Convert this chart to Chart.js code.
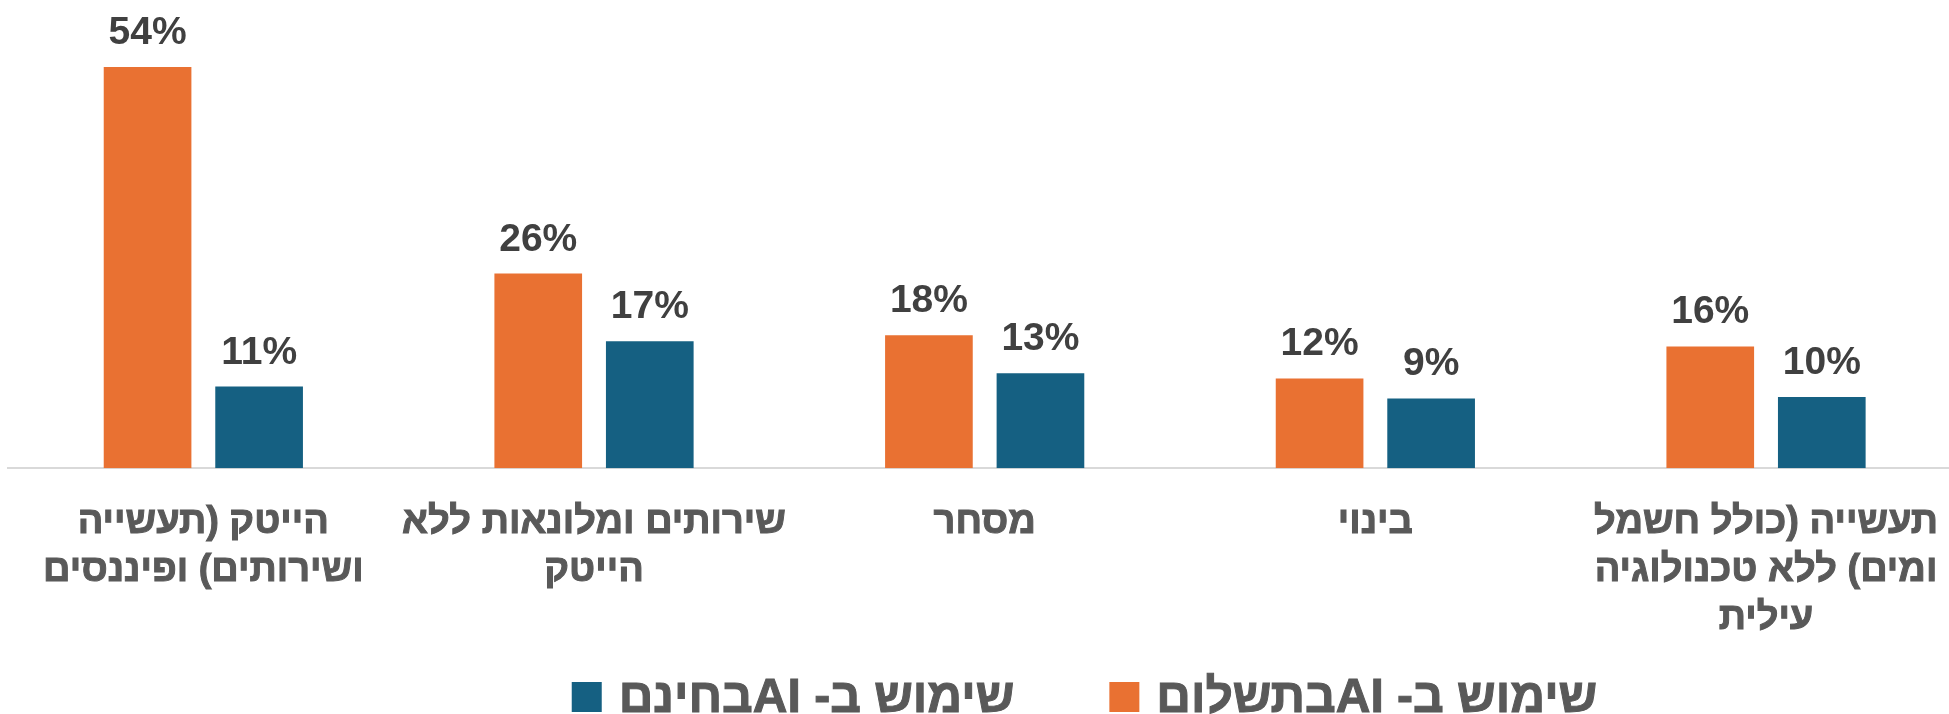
<!DOCTYPE html>
<html>
<head>
<meta charset="utf-8">
<script src="https://cdn.jsdelivr.net/npm/chart.js@4.4.1/dist/chart.umd.min.js"></script>
<style>
  html, body { margin: 0; padding: 0; background: #ffffff; overflow: hidden; }
</style>
</head>
<body>
<canvas id="aiChart" width="1968" height="714" dir="rtl"></canvas>
<script>
var categories = [
    ['הייטק (תעשייה', 'ושירותים) ופיננסים'],
    ['שירותים ומלונאות ללא', 'הייטק'],
    'מסחר',
    'בינוי',
    ['תעשייה (כולל חשמל', 'ומים) ללא טכנולוגיה', 'עילית']
];
var seriesNames = ['שימוש ב- AIבתשלום', 'שימוש ב- AIבחינם'];
var paidValues = [54, 26.2, 17.9, 12.1, 16.4];
var freeValues = [11, 17.1, 12.8, 9.4, 9.6];
var seriesColors = ['#E97132', '#156082'];

var fontFamily = '"Liberation Sans", Arial, sans-serif';

// percent labels above every bar
var valueLabels = {
    id: 'valueLabels',
    afterDatasetsDraw: function (chart) {
        var ctx = chart.ctx;
        ctx.save();
        ctx.font = 'bold 39px ' + fontFamily;
        ctx.fillStyle = '#404040';
        ctx.textAlign = 'center';
        ctx.textBaseline = 'alphabetic';
        chart.data.datasets.forEach(function (ds, i) {
            chart.getDatasetMeta(i).data.forEach(function (bar, j) {
                ctx.fillText(Math.round(ds.data[j]) + '%', bar.x, bar.y - 23);
            });
        });
        ctx.restore();
    }
};

// legend at the bottom: boxes left of the text, free series first
var bottomLegend = {
    id: 'bottomLegend',
    afterDraw: function (chart) {
        var ctx = chart.ctx;
        var boxSize = 30, boxGap = 17, itemGap = 95, baseY = 712;
        ctx.save();
        ctx.font = 'bold 48px ' + fontFamily;
        ctx.textAlign = 'left';
        ctx.textBaseline = 'alphabetic';
        ctx.lineWidth = 1;
        var items = chart.data.datasets.slice().reverse();
        var total = 0;
        items.forEach(function (ds, i) {
            total += boxSize + boxGap + ctx.measureText(ds.label).width;
            if (i > 0) total += itemGap;
        });
        var x = 1084.5 - total / 2;
        items.forEach(function (ds) {
            ctx.fillStyle = ds.backgroundColor;
            ctx.fillRect(x, baseY - boxSize, boxSize, boxSize);
            x += boxSize + boxGap;
            ctx.fillStyle = '#595959';
            ctx.strokeStyle = '#595959';
            ctx.fillText(ds.label, x, baseY);
            ctx.strokeText(ds.label, x, baseY);
            x += ctx.measureText(ds.label).width + itemGap;
        });
        ctx.restore();
    }
};

var aiChart = new Chart(document.getElementById('aiChart').getContext('2d'), {
    type: 'bar',
    data: {
        labels: categories,
        datasets: [{
            label: seriesNames[0],
            data: paidValues,
            backgroundColor: seriesColors[0]
        }, {
            label: seriesNames[1],
            data: freeValues,
            backgroundColor: seriesColors[1]
        }]
    },
    options: {
        responsive: false,
        animation: false,
        layout: {
            padding: { left: 8, right: 0, top: 0, bottom: 42 }
        },
        datasets: {
            bar: { categoryPercentage: 0.571, barPercentage: 0.786 }
        },
        plugins: {
            legend: { display: false },
            tooltip: { enabled: false }
        },
        scales: {
            x: {
                grid: { display: false, drawTicks: false },
                border: { display: true, color: '#d9d9d9', width: 2 },
                ticks: {
                    autoSkip: false,
                    maxRotation: 0,
                    padding: 30,
                    color: '#595959',
                    textStrokeColor: '#595959',
                    textStrokeWidth: 1,
                    font: { family: fontFamily, size: 38, weight: 'bold', lineHeight: 1.26 }
                }
            },
            y: {
                display: false,
                min: 0,
                max: 63
            }
        }
    },
    plugins: [valueLabels, bottomLegend]
});
</script>
</body>
</html>
